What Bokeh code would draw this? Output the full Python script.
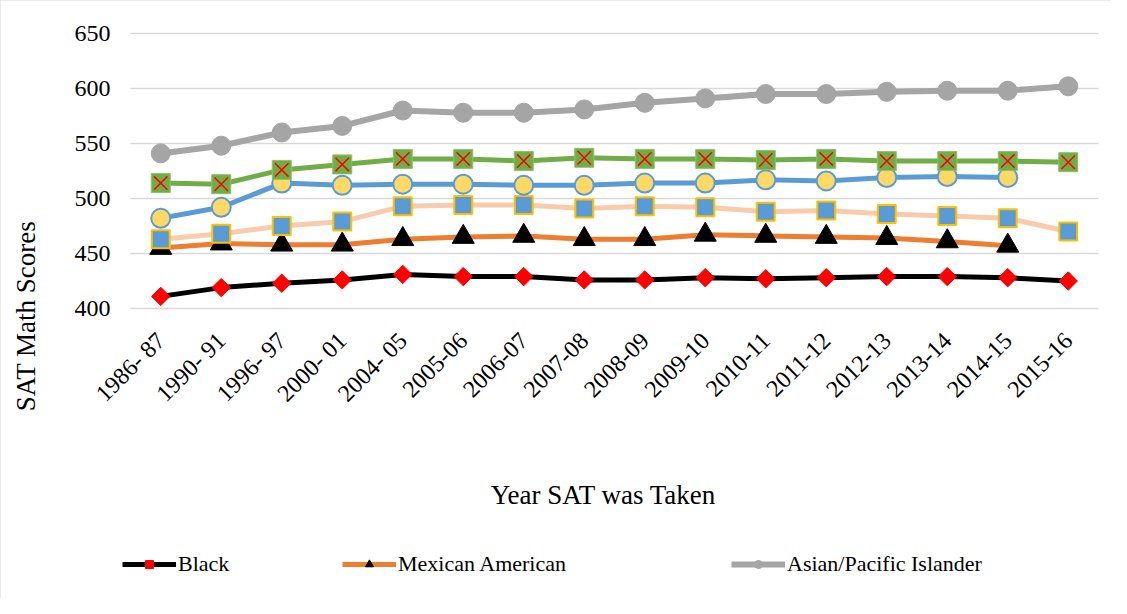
import numpy as np
from bokeh.plotting import figure
from bokeh.models import Legend, LegendItem, Range1d, FixedTicker
from bokeh.embed import file_html
from bokeh.resources import INLINE

nan = float("nan")

years = ["1986- 87", "1990- 91", "1996- 97", "2000- 01", "2004- 05", "2005-06",
         "2006-07", "2007-08", "2008-09", "2009-10", "2010-11", "2011-12",
         "2012-13", "2013-14", "2014-15", "2015-16"]

black = [411, 419, 423, 426, 431, 429, 429, 426, 426, 428, 427, 428, 429, 429, 428, 425]
mexican_american = [455, 459, 458, 458, 463, 465, 466, 463, 463, 467, 466, 465, 464, 461, 457, nan]
asian_pacific = [541, 548, 560, 566, 580, 578, 578, 581, 587, 591, 595, 595, 597, 598, 598, 602]
american_indian = [463, 468, 475, 479, 493, 494, 494, 491, 493, 492, 488, 489, 486, 484, 482, 470]
other = [482, 492, 514, 512, 513, 513, 512, 512, 514, 514, 517, 516, 519, 520, 519, nan]
white = [514, 513, 526, 531, 536, 536, 534, 537, 536, 536, 535, 536, 534, 534, 534, 533]

y_ticks = [400, 450, 500, 550, 600, 650]
y_min, y_max = 400, 650

SERIF = "Liberation Serif"

# ---- pixel geometry of the layout (canvas coordinates) ----
W, H = 1111, 598
PLOT_LEFT, PLOT_RIGHT = 130, 1098   # horizontal extent of the value grid
PLOT_TOP, PLOT_BOTTOM = 33, 308     # pixel rows of 650 and 400
X_TITLE_CX = 603                    # centre of the x-axis title
Y_TITLE_CY = 320                    # centre of the y-axis title

n = len(years)
xs = list(range(n))

step = (PLOT_RIGHT - PLOT_LEFT) / n
x0_px = PLOT_LEFT + step / 2
def px_to_x(px):
    return (px - x0_px) / step

ppu = (PLOT_BOTTOM - PLOT_TOP) / (y_max - y_min)
def py_to_y(py):
    return y_min + (PLOT_BOTTOM - py) / ppu

cat_lo, cat_hi = -0.5, n - 0.5

p = figure(x_range=Range1d(px_to_x(0), px_to_x(W)),
           y_range=Range1d(py_to_y(H), py_to_y(0)),
           width=W, height=H, output_backend="svg", toolbar_location=None,
           min_border_left=0, min_border_right=0, min_border_top=0,
           min_border_bottom=0)
p.outline_line_color = None
p.styles = {"outline": "1px solid #D9D9D9", "outline-offset": "-1px"}

p.xgrid.grid_line_color = None
p.ygrid.grid_line_color = "#D9D9D9"
p.ygrid.grid_line_width = 1.5
p.ygrid.ticker = FixedTicker(ticks=y_ticks)
try:
    p.ygrid.cross_bounds = (cat_lo, cat_hi)
except Exception:
    p.ygrid.grid_line_color = None
    p.segment(x0=[cat_lo] * len(y_ticks), y0=y_ticks, x1=[cat_hi] * len(y_ticks),
              y1=y_ticks, line_color="#D9D9D9", line_width=1.5)

p.yaxis.ticker = FixedTicker(ticks=y_ticks)
p.xaxis.ticker = FixedTicker(ticks=xs)
p.xaxis.major_label_overrides = {i: lab for i, lab in zip(xs, years)}
for ax in (p.xaxis[0], p.yaxis[0]):
    ax.axis_line_color = None
    ax.major_tick_out = 0
    ax.major_tick_in = 0
    ax.minor_tick_out = 0
    ax.minor_tick_in = 0
    ax.major_label_text_font = SERIF
    ax.major_label_text_font_size = "24px"
    ax.major_label_text_color = "black"
    ax.axis_label_text_font = SERIF
    ax.axis_label_text_font_size = "27px"
    ax.axis_label_text_font_style = "normal"
    ax.axis_label_text_color = "black"

# y axis: drawn at the left edge of the grid, title centred at Y_TITLE_CY
yc = py_to_y(Y_TITLE_CY)
y_half = y_max - yc
p.yaxis.fixed_location = cat_lo
p.yaxis.bounds = (yc - y_half, yc + y_half)
p.yaxis.major_label_standoff = 20
p.yaxis.axis_label = "SAT Math Scores"
p.yaxis.axis_label_standoff = 31

# x axis: drawn along 400, title centred at X_TITLE_CX
xc = px_to_x(X_TITLE_CX)
x_half = (PLOT_RIGHT - PLOT_LEFT) / 2 / step
p.xaxis.fixed_location = y_min
p.xaxis.bounds = (xc - x_half, xc + x_half)
p.xaxis.major_label_orientation = np.pi / 4
p.xaxis.major_label_standoff = 28
p.xaxis.axis_label = "Year SAT was Taken"
p.xaxis.axis_label_standoff = 61

# series (drawing order)
bl = p.line(xs, black, line_color="black", line_width=5)
bm = p.scatter(xs, black, marker="square", angle=np.pi / 4, size=13,
               fill_color="#FF0000", line_color="#FF0000")

ol = p.line(xs, mexican_american, line_color="#ED7D31", line_width=5)
om = p.scatter(xs, mexican_american, marker="triangle", size=22,
               fill_color="black", line_color="black")

gl = p.line(xs, asian_pacific, line_color="#A5A5A5", line_width=6)
gm = p.scatter(xs, asian_pacific, marker="circle", size=19,
               fill_color="#A5A5A5", line_color="#A5A5A5")

pl = p.line(xs, american_indian, line_color="#F8CBAD", line_width=5)
p.scatter(xs, american_indian, marker="square", size=18,
          fill_color="#5B9BD5", line_color="#FFC000", line_width=2)

ul = p.line(xs, other, line_color="#5B9BD5", line_width=5)
p.scatter(xs, other, marker="circle", size=19,
          fill_color="#FFD966", line_color="#5B9BD5", line_width=2)

wl = p.line(xs, white, line_color="#70AD47", line_width=5)
p.scatter(xs, white, marker="square", size=19,
          fill_color="#70AD47", line_color="#8CC168", line_width=1)
p.scatter(xs, white, marker="x", size=19, line_color="#FF0000", line_width=1.5)

legend_specs = [("Black", [bl, bm], 122),
                ("Mexican American", [ol, om], 342),
                ("Asian/Pacific Islander", [gl, gm], 731)]
for name, rends, xoff in legend_specs:
    leg = Legend(items=[LegendItem(label=name, renderers=rends)],
                 location=(xoff, 21), orientation="horizontal",
                 padding=0, margin=0, spacing=0,
                 glyph_width=54, glyph_height=20, label_standoff=2,
                 label_text_font=SERIF, label_text_font_size="22px",
                 label_text_color="black",
                 border_line_color=None, background_fill_alpha=0)
    p.add_layout(leg, "center")

open("out.html", "w").write(file_html(p, INLINE))
